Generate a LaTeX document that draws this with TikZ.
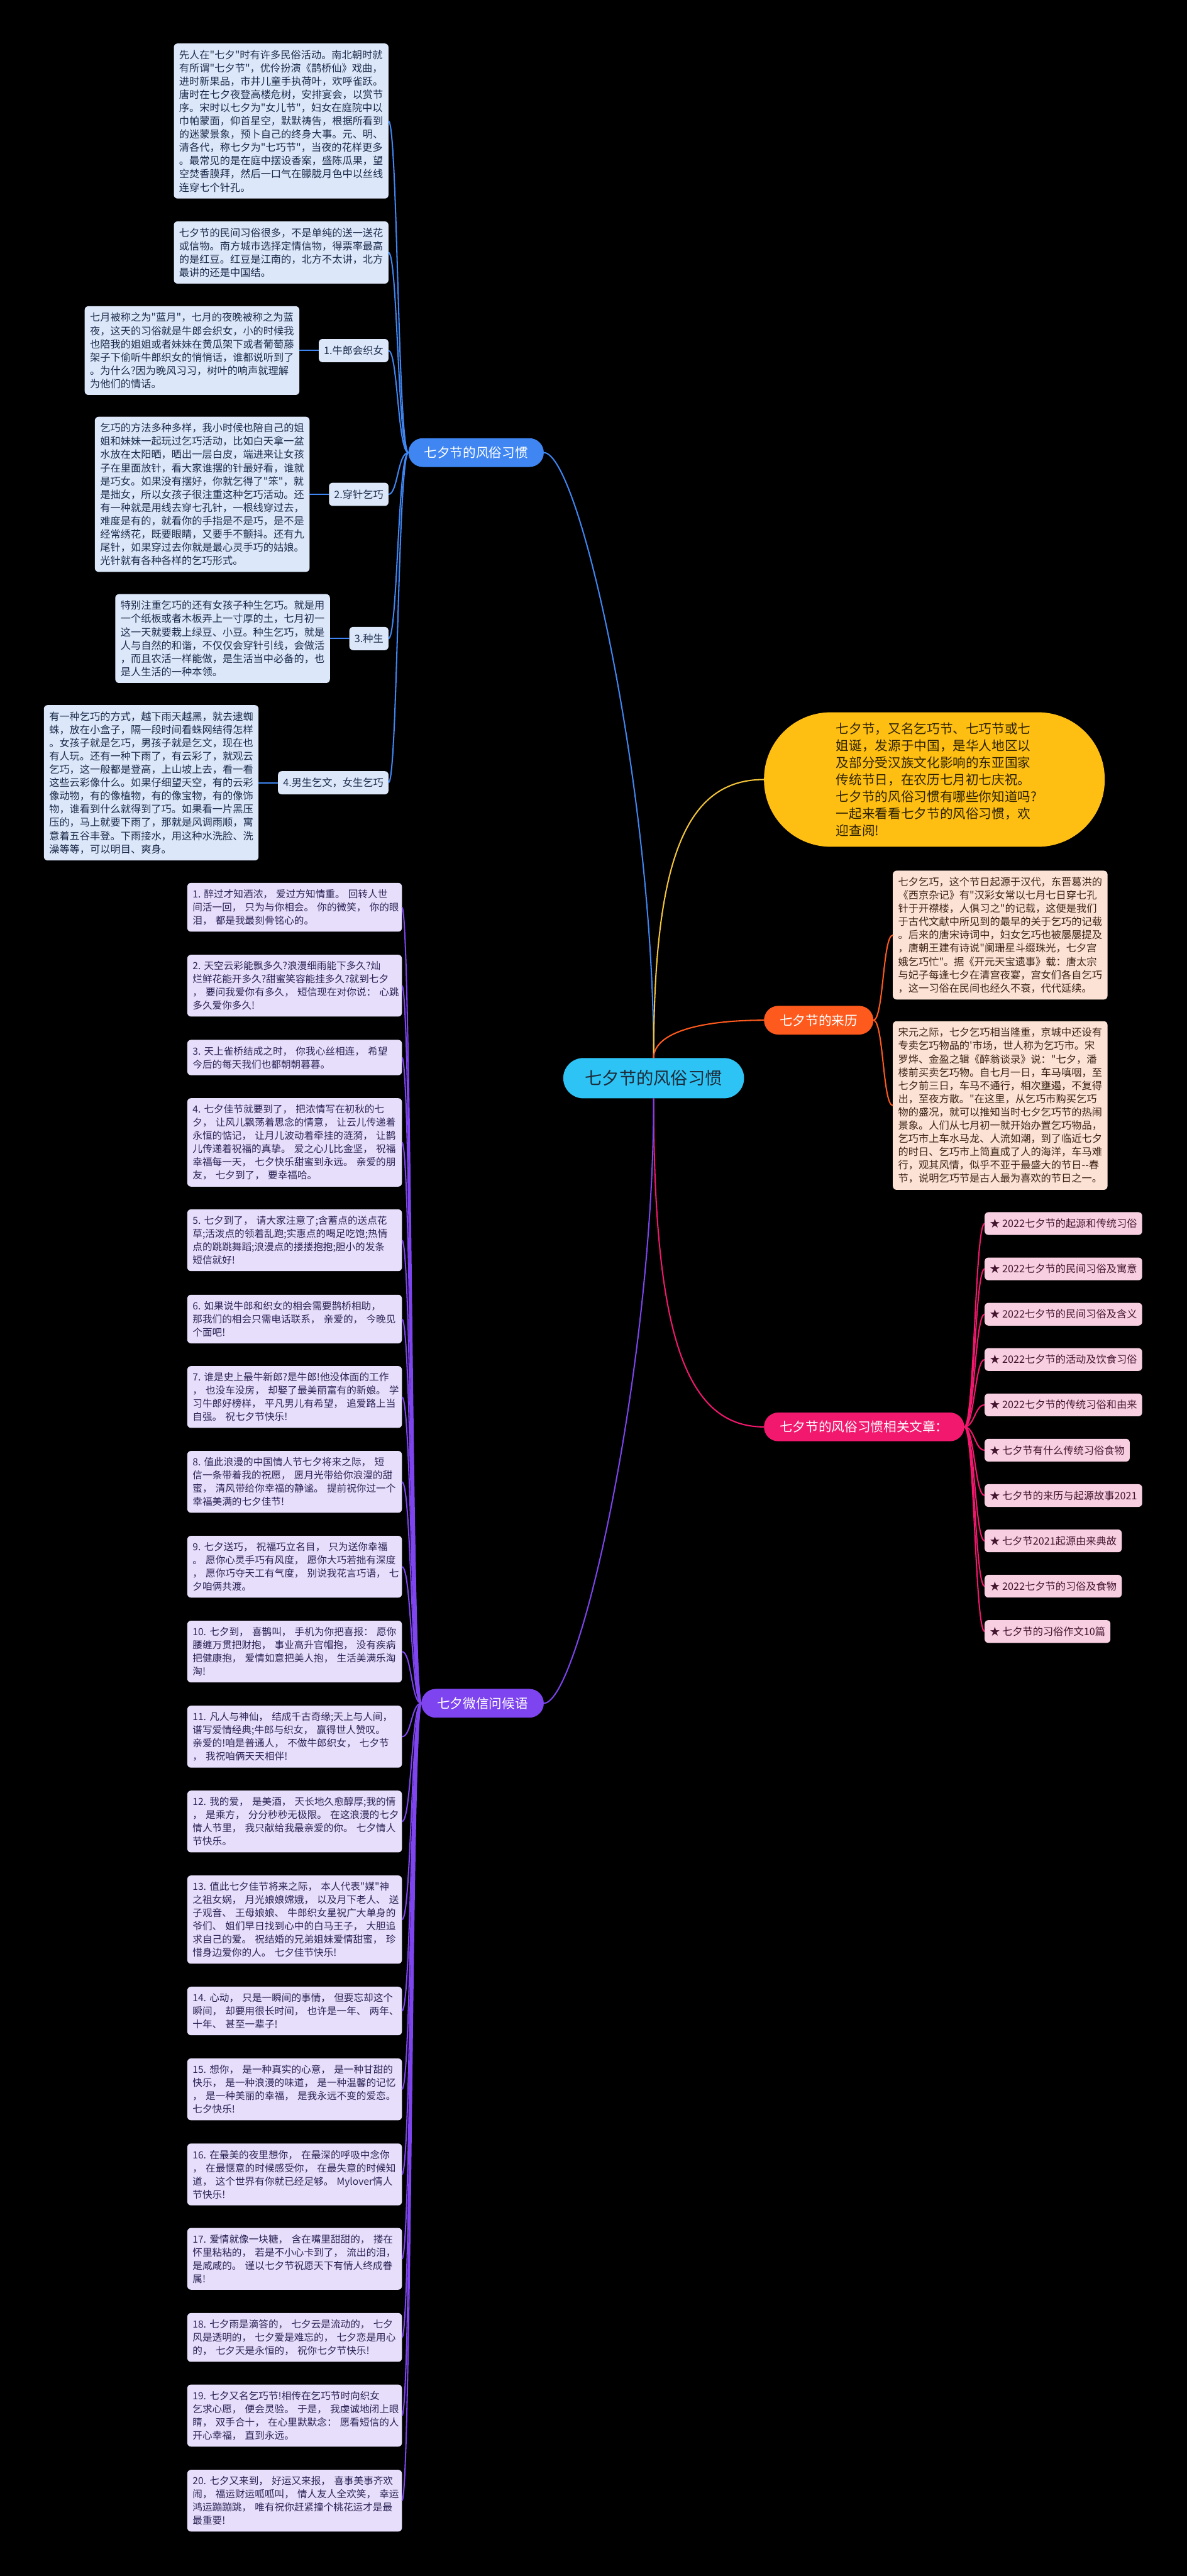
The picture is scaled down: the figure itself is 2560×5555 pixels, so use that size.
\documentclass[tikz,border=0pt]{standalone}
\usepackage{fontspec}
\setmainfont{Noto Sans CJK SC}[Ligatures=TeXOff]
\usetikzlibrary{positioning}
\hyphenpenalty=10000
\exhyphenpenalty=10000

\definecolor{bgBlack}{HTML}{000000}
\definecolor{rootCyan}{HTML}{2DC3F4}
\definecolor{rootText}{HTML}{1C2B3A}
\definecolor{custBlue}{HTML}{3F86F2}
\definecolor{custFill}{HTML}{DCE8FA}
\definecolor{custText}{HTML}{1B2A4A}
\definecolor{introYellow}{HTML}{FFBF12}
\definecolor{introText}{HTML}{2E2300}
\definecolor{lineYellow}{HTML}{F5C53A}
\definecolor{origOrange}{HTML}{FF5A1E}
\definecolor{origFill}{HTML}{FCE2D4}
\definecolor{origText}{HTML}{3A2216}
\definecolor{artPink}{HTML}{F2186E}
\definecolor{artFill}{HTML}{F8CFE1}
\definecolor{artText}{HTML}{43152F}
\definecolor{wishPurple}{HTML}{7D44EF}
\definecolor{wishFill}{HTML}{E6DEFA}
\definecolor{wishText}{HTML}{2C2356}

\begin{document}
\begin{tikzpicture}[x=0.5pt, y=-0.5pt,
    every node/.style={inner sep=0pt, outer sep=0pt},
    root/.style={fill=rootCyan, text=rootText, rounded corners=21.75pt,
      minimum height=43.5pt, minimum width=195pt, font=\fontsize{18.5}{22}\selectfont},
    topic/.style={text=white, rounded corners=15.5pt, minimum height=31pt,
      inner xsep=17pt, font=\fontsize{14}{17}\selectfont},
    intro/.style={fill=introYellow, text=introText, rounded corners=72pt,
      minimum width=367.5pt, minimum height=145pt, text width=212pt, align=left,
      font=\fontsize{14}{18.3}\selectfont},
    para/.style={rounded corners=4pt, text width=220pt, align=left,
      inner xsep=5.75pt, inner ysep=7pt, font=\fontsize{11}{14.3}\selectfont},
    custbox/.style={para, fill=custFill, text=custText},
    custtag/.style={fill=custFill, text=custText, rounded corners=4pt,
      minimum height=25pt, inner xsep=5.5pt, font=\fontsize{11}{13}\selectfont},
    origbox/.style={para, fill=origFill, text=origText},
    wishbox/.style={para, fill=wishFill, text=wishText, font=\fontsize{10.6}{14.25}\selectfont},
    artbox/.style={fill=artFill, text=artText, rounded corners=4pt,
      minimum height=24.5pt, inner xsep=5.5pt, font=\fontsize{11}{13}\selectfont},
    link/.style={line width=1.4pt}]

    % --- 1. 背景と範囲 ---
    \fill[bgBlack] (0,0) rectangle (2560,5555);
    \useasboundingbox (0,0) rectangle (2560,5555);

    % --- 2. x座標の基準定義 ---
    % xRoot: 中心, xLeftEdge: 左側子ノード右端, xRightTopic: 右側トピック左端
    \def\xRoot{1410}
    \def\yRoot{2325}
    \def\xLeftEdge{838}
    \def\xLeftTopic{1173}
    \def\xRightTopic{1648}
    \def\xWishEdge{867}

    % --- 3. 中心とトピック ---
    \node[root] (root) at (\xRoot,\yRoot) {七夕节的风俗习惯};
    \node[topic, fill=custBlue, anchor=east] (cust) at (\xLeftTopic,976) {七夕节的风俗习惯};
    \node[topic, fill=wishPurple, anchor=east] (wish) at (\xLeftTopic,3673) {七夕微信问候语};
    \node[topic, fill=origOrange, anchor=west] (orig) at (\xRightTopic,2200) {七夕节的来历};
    \node[topic, fill=artPink, anchor=west] (art) at (\xRightTopic,3077) {七夕节的风俗习惯相关文章：};
    \node[intro] (intro) at (2015.5,1681) {七夕节，又名乞巧节、七巧节或七\\
      姐诞，发源于中国，是华人地区以\\
      及部分受汉族文化影响的东亚国家\\
      传统节日，在农历七月初七庆祝。\\
      七夕节的风俗习惯有哪些你知道吗?\\
      一起来看看七夕节的风俗习惯，欢\\
      迎查阅!};

    % 中心からトピックへの枝
    \draw[link, custBlue] (root.north) .. controls (1410,1700) and (1250,976) .. (cust.east);
    \draw[link, lineYellow] (root.north) .. controls (1410,1850) and (1480,1681) .. (intro.west);
    \draw[link, origOrange] (root.north) .. controls (1410,2230) and (1500,2200) .. (orig.west);
    \draw[link, artPink] (root.south) .. controls (1410,2880) and (1480,3077) .. (art.west);
    \draw[link, wishPurple] (root.south) .. controls (1410,2950) and (1250,3673) .. (wish.east);

    % --- 4. 七夕节的风俗习惯（左上） ---
    \node[custbox, anchor=east] (custA) at (\xLeftEdge,261) {先人在"七夕"时有许多民俗活动。南北朝时就\\
      有所谓"七夕节"，优伶扮演《鹊桥仙》戏曲，\\
      进时新果品，市井儿童手执荷叶，欢呼雀跃。\\
      唐时在七夕夜登高楼危树，安排宴会，以赏节\\
      序。宋时以七夕为"女儿节"，妇女在庭院中以\\
      巾帕蒙面，仰首星空，默默祷告，根据所看到\\
      的迷蒙景象，预卜自己的终身大事。元、明、\\
      清各代，称七夕为"七巧节"，当夜的花样更多\\
      。最常见的是在庭中摆设香案，盛陈瓜果，望\\
      空焚香膜拜，然后一口气在朦胧月色中以丝线\\
      连穿七个针孔。};
    \node[custbox, anchor=east] (custB) at (\xLeftEdge,544.5) {七夕节的民间习俗很多，不是单纯的送一送花\\
      或信物。南方城市选择定情信物，得票率最高\\
      的是红豆。红豆是江南的，北方不太讲，北方\\
      最讲的还是中国结。};

    \node[custtag, anchor=east] (tag1) at (\xLeftEdge,756) {1.牛郎会织女};
    \node[custbox, left=21pt of tag1] (custC) {七月被称之为"蓝月"，七月的夜晚被称之为蓝\\
      夜，这天的习俗就是牛郎会织女，小的时候我\\
      也陪我的姐姐或者妹妹在黄瓜架下或者葡萄藤\\
      架子下偷听牛郎织女的悄悄话，谁都说听到了\\
      。为什么?因为晚风习习，树叶的响声就理解\\
      为他们的情话。};

    \node[custtag, anchor=east] (tag2) at (\xLeftEdge,1066) {2.穿针乞巧};
    \node[custbox, left=21pt of tag2] (custD) {乞巧的方法多种多样，我小时候也陪自己的姐\\
      姐和妹妹一起玩过乞巧活动，比如白天拿一盆\\
      水放在太阳晒，晒出一层白皮，端进来让女孩\\
      子在里面放针，看大家谁摆的针最好看，谁就\\
      是巧女。如果没有摆好，你就乞得了"笨"，就\\
      是拙女，所以女孩子很注重这种乞巧活动。还\\
      有一种就是用线去穿七孔针，一根线穿过去，\\
      难度是有的，就看你的手指是不是巧，是不是\\
      经常绣花，既要眼睛，又要手不颤抖。还有九\\
      尾针，如果穿过去你就是最心灵手巧的姑娘。\\
      光针就有各种各样的乞巧形式。};

    \node[custtag, anchor=east] (tag3) at (\xLeftEdge,1377) {3.种生};
    \node[custbox, left=21pt of tag3] (custE) {特别注重乞巧的还有女孩子种生乞巧。就是用\\
      一个纸板或者木板弄上一寸厚的土，七月初一\\
      这一天就要栽上绿豆、小豆。种生乞巧，就是\\
      人与自然的和谐，不仅仅会穿针引线，会做活\\
      ，而且农活一样能做，是生活当中必备的，也\\
      是人生活的一种本领。};

    \node[custtag, anchor=east] (tag4) at (\xLeftEdge,1688) {4.男生乞文，女生乞巧};
    \node[custbox, left=21pt of tag4] (custF) {有一种乞巧的方式，越下雨天越黑，就去逮蜘\\
      蛛，放在小盒子，隔一段时间看蛛网结得怎样\\
      。女孩子就是乞巧，男孩子就是乞文，现在也\\
      有人玩。还有一种下雨了，有云彩了，就观云\\
      乞巧，这一般都是登高，上山坡上去，看一看\\
      这些云彩像什么。如果仔细望天空，有的云彩\\
      像动物，有的像植物，有的像宝物，有的像饰\\
      物，谁看到什么就得到了巧。如果看一片黑压\\
      压的，马上就要下雨了，那就是风调雨顺，寓\\
      意着五谷丰登。下雨接水，用这种水洗脸、洗\\
      澡等等，可以明目、爽身。};

    \foreach \k in {custA,custB,tag1,tag2,tag3,tag4}
      \draw[link, custBlue] (cust.west) .. controls ([xshift=-11.5pt]cust.west) and ([xshift=10pt]\k.east) .. (\k.east);
    \foreach \t/\b in {tag1/custC,tag2/custD,tag3/custE,tag4/custF}
      \draw[link, custBlue] (\t.west) -- (\b.east);

    % --- 5. 七夕节的来历（右） ---
    \node[origbox, anchor=west] (orig1) at (1926,2016.5) {七夕乞巧，这个节日起源于汉代，东晋葛洪的\\
      《西京杂记》有"汉彩女常以七月七日穿七孔\\
      针于开襟楼，人俱习之"的记载，这便是我们\\
      于古代文献中所见到的最早的关于乞巧的记载\\
      。后来的唐宋诗词中，妇女乞巧也被屡屡提及\\
      ，唐朝王建有诗说"阑珊星斗缀珠光，七夕宫\\
      娥乞巧忙"。据《开元天宝遗事》载：唐太宗\\
      与妃子每逢七夕在清宫夜宴，宫女们各自乞巧\\
      ，这一习俗在民间也经久不衰，代代延续。};
    \node[origbox, anchor=west] (orig2) at (1926,2384) {宋元之际，七夕乞巧相当隆重，京城中还设有\\
      专卖乞巧物品的'市场，世人称为乞巧市。宋\\
      罗烨、金盈之辑《醉翁谈录》说："七夕，潘\\
      楼前买卖乞巧物。自七月一日，车马嗔咽，至\\
      七夕前三日，车马不通行，相次壅遏，不复得\\
      出，至夜方散。"在这里，从乞巧市购买乞巧\\
      物的盛况，就可以推知当时七夕乞巧节的热闹\\
      景象。人们从七月初一就开始办置乞巧物品，\\
      乞巧市上车水马龙、人流如潮，到了临近七夕\\
      的时日、乞巧市上简直成了人的海洋，车马难\\
      行，观其风情，似乎不亚于最盛大的节日-{}-春\\
      节，说明乞巧节是古人最为喜欢的节日之一。};
    \foreach \k in {orig1,orig2}
      \draw[link, origOrange] (orig.east) .. controls ([xshift=11pt]orig.east) and ([xshift=-11pt]\k.west) .. (\k.west);

    % --- 6. 相关文章（右下） ---
    \foreach \t [count=\i] in {★~2022七夕节的起源和传统习俗, ★~2022七夕节的民间习俗及寓意,
        ★~2022七夕节的民间习俗及含义, ★~2022七夕节的活动及饮食习俗,
        ★~2022七夕节的传统习俗和由来, ★~七夕节有什么传统习俗食物,
        ★~七夕节的来历与起源故事2021, ★~七夕节2021起源由来典故,
        ★~2022七夕节的习俗及食物, ★~七夕节的习俗作文10篇}
    {
      \node[artbox, anchor=west] (art\i) at (2124,{2638.5+97.75*(\i-1)}) {\t};
      \draw[link, artPink] (art.east) .. controls ([xshift=11pt]art.east) and ([xshift=-10.5pt]art\i.west) .. (art\i.west);
    }

    % --- 7. 七夕微信问候语（左下） ---
    \node[wishbox, anchor=east] (wish1) at (\xWishEdge,1956.5) {1.~醉过才知酒浓，~爱过方知情重。~回转人世\\
      间活一回，~只为与你相会。~你的微笑，~你的眼\\
      泪，~都是我最刻骨铭心的。};
    \node[wishbox, anchor=east] (wish2) at (\xWishEdge,2125.5) {2.~天空云彩能飘多久?浪漫细雨能下多久?灿\\
      烂鲜花能开多久?甜蜜笑容能挂多久?就到七夕\\
      ，~要问我爱你有多久，~短信现在对你说：~心跳\\
      多久爱你多久!};
    \node[wishbox, anchor=east] (wish3) at (\xWishEdge,2280.5) {3.~天上雀桥结成之时，~你我心丝相连，~希望\\
      今后的每天我们也都朝朝暮暮。};
    \node[wishbox, anchor=east] (wish4) at (\xWishEdge,2463.5) {4.~七夕佳节就要到了，~把浓情写在初秋的七\\
      夕，~让风儿飘荡着思念的情意，~让云儿传递着\\
      永恒的惦记，~让月儿波动着牵挂的涟漪，~让鹊\\
      儿传递着祝福的真挚。~爱之心儿比金坚，~祝福\\
      幸福每一天，~七夕快乐甜蜜到永远。~亲爱的朋\\
      友，~七夕到了，~要幸福哈。};
    \node[wishbox, anchor=east] (wish5) at (\xWishEdge,2674.5) {5.~七夕到了，~请大家注意了;含蓄点的送点花\\
      草;活泼点的领着乱跑;实惠点的喝足吃饱;热情\\
      点的跳跳舞蹈;浪漫点的搂搂抱抱;胆小的发条\\
      短信就好!};
    \node[wishbox, anchor=east] (wish6) at (\xWishEdge,2844.5) {6.~如果说牛郎和织女的相会需要鹊桥相助，\\
      那我们的相会只需电话联系，~亲爱的，~今晚见\\
      个面吧!};
    \node[wishbox, anchor=east] (wish7) at (\xWishEdge,3012.5) {7.~谁是史上最牛新郎?是牛郎!他没体面的工作\\
      ，~也没车没房，~却娶了最美丽富有的新娘。~学\\
      习牛郎好榜样，~平凡男儿有希望，~追爱路上当\\
      自强。~祝七夕节快乐!};
    \node[wishbox, anchor=east] (wish8) at (\xWishEdge,3195.5) {8.~值此浪漫的中国情人节七夕将来之际，~短\\
      信一条带着我的祝愿，~愿月光带给你浪漫的甜\\
      蜜，~清风带给你幸福的静谧。~提前祝你过一个\\
      幸福美满的七夕佳节!};
    \node[wishbox, anchor=east] (wish9) at (\xWishEdge,3378.5) {9.~七夕送巧，~祝福巧立名目，~只为送你幸福\\
      。~愿你心灵手巧有风度，~愿你大巧若拙有深度\\
      ，~愿你巧夺天工有气度，~别说我花言巧语，~七\\
      夕咱俩共渡。};
    \node[wishbox, anchor=east] (wish10) at (\xWishEdge,3561.5) {10.~七夕到，~喜鹊叫，~手机为你把喜报：~愿你\\
      腰缠万贯把财抱，~事业高升官帽抱，~没有疾病\\
      把健康抱，~爱情如意把美人抱，~生活美满乐淘\\
      淘!};
    \node[wishbox, anchor=east] (wish11) at (\xWishEdge,3745) {11.~凡人与神仙，~结成千古奇缘;天上与人间，\\
      谱写爱情经典;牛郎与织女，~赢得世人赞叹。\\
      亲爱的!咱是普通人，~不做牛郎织女，~七夕节\\
      ，~我祝咱俩天天相伴!};
    \node[wishbox, anchor=east] (wish12) at (\xWishEdge,3928) {12.~我的爱，~是美酒，~天长地久愈醇厚;我的情\\
      ，~是乘方，~分分秒秒无极限。~在这浪漫的七夕\\
      情人节里，~我只献给我最亲爱的你。~七夕情人\\
      节快乐。};
    \node[wishbox, anchor=east] (wish13) at (\xWishEdge,4139.5) {13.~值此七夕佳节将来之际，~本人代表"媒"神\\
      之祖女娲，~月光娘娘嫦娥，~以及月下老人、~送\\
      子观音、~王母娘娘、~牛郎织女星祝广大单身的\\
      爷们、~姐们早日找到心中的白马王子，~大胆追\\
      求自己的爱。~祝结婚的兄弟姐妹爱情甜蜜，~珍\\
      惜身边爱你的人。~七夕佳节快乐!};
    \node[wishbox, anchor=east] (wish14) at (\xWishEdge,4336.5) {14.~心动，~只是一瞬间的事情，~但要忘却这个\\
      瞬间，~却要用很长时间，~也许是一年、~两年、\\
      十年、~甚至一辈子!};
    \node[wishbox, anchor=east] (wish15) at (\xWishEdge,4505.5) {15.~想你，~是一种真实的心意，~是一种甘甜的\\
      快乐，~是一种浪漫的味道，~是一种温馨的记忆\\
      ，~是一种美丽的幸福，~是我永远不变的爱恋。\\
      七夕快乐!};
    \node[wishbox, anchor=east] (wish16) at (\xWishEdge,4689) {16.~在最美的夜里想你，~在最深的呼吸中念你\\
      ，~在最惬意的时候感受你，~在最失意的时候知\\
      道，~这个世界有你就已经足够。~Mylover情人\\
      节快乐!};
    \node[wishbox, anchor=east] (wish17) at (\xWishEdge,4871) {17.~爱情就像一块糖，~含在嘴里甜甜的，~搂在\\
      怀里粘粘的，~若是不小心卡到了，~流出的泪，\\
      是咸咸的。~谨以七夕节祝愿天下有情人终成眷\\
      属!};
    \node[wishbox, anchor=east] (wish18) at (\xWishEdge,5040.5) {18.~七夕雨是滴答的，~七夕云是流动的，~七夕\\
      风是透明的，~七夕爱是难忘的，~七夕恋是用心\\
      的，~七夕天是永恒的，~祝你七夕节快乐!};
    \node[wishbox, anchor=east] (wish19) at (\xWishEdge,5209) {19.~七夕又名乞巧节!相传在乞巧节时向织女\\
      乞求心愿，~便会灵验。~于是，~我虔诚地闭上眼\\
      睛，~双手合十，~在心里默默念：~愿看短信的人\\
      开心幸福，~直到永远。};
    \node[wishbox, anchor=east] (wish20) at (\xWishEdge,5392.5) {20.~七夕又来到，~好运又来报，~喜事美事齐欢\\
      闹，~福运财运呱呱叫，~情人友人全欢笑，~幸运\\
      鸿运蹦蹦跳，~唯有祝你赶紧撞个桃花运才是最\\
      最重要!};

    \foreach \k in {1,...,20}
      \draw[link, wishPurple] (wish.west) .. controls ([xshift=-11pt]wish.west) and ([xshift=10.5pt]wish\k.east) .. (wish\k.east);

  \end{tikzpicture}
\end{document}
